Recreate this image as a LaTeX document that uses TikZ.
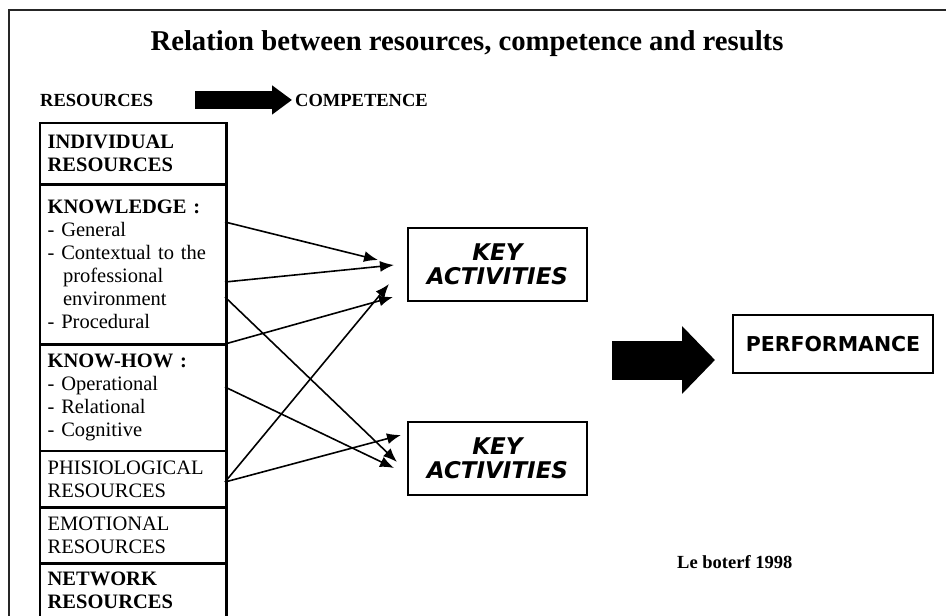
\documentclass[tikz,border=0pt]{standalone}
\usepackage{fontspec}
\setmainfont{Liberation Serif}
\newfontfamily\versans{DejaVu Sans}
\usetikzlibrary{positioning,arrows.meta,calc}

\begin{document}
\begin{tikzpicture}[x=1pt,y=-1pt,
  cell/.style={rectangle, draw=black, line width=1.3pt, text width=171pt,
    inner xsep=7pt, inner ysep=0pt, align=left, anchor=north west,
    font=\fontsize{20.5}{23}\selectfont},
  boldcell/.style={cell, font=\fontsize{20.5}{23}\selectfont\bfseries},
  keybox/.style={rectangle, draw=black, line width=1.7pt, minimum width=179pt,
    minimum height=73pt, align=center,
    font=\versans\bfseries\itshape\fontsize{23}{24}\selectfont},
  perfbox/.style={rectangle, draw=black, line width=1.7pt, minimum width=200pt,
    minimum height=58pt, font=\versans\bfseries\fontsize{20.5}{24}\selectfont},
  head/.style={anchor=base west, inner sep=0pt,
    font=\fontsize{18.5}{20}\selectfont\bfseries},
  link/.style={-{Latex[length=14pt,width=11pt]}, line width=1.6pt},
  fat/.style={line width=18pt, -{Triangle[length=20pt,width=28pt]}},
  fatter/.style={line width=39pt, -{Triangle[length=33pt,width=66pt]}},
]
\useasboundingbox (0,0) rectangle (946,616);
% frame and title
\draw[line width=1.8pt, black!85] (946,10) -- (9,10) -- (9,616);
\node[anchor=base, font=\fontsize{28.7}{30}\selectfont\bfseries] (title)
  at (467,50) {Relation between resources, competence and results};
\node[head] (res) at (40,106) {RESOURCES};
\node[head] (comp) at (295,106) {COMPETENCE};
\draw[fat] ([xshift=42pt]res.east) -- ([xshift=-3pt]comp.west);

% resource stack
\node[boldcell, minimum height=60pt] (indiv) at (40,123)
  {INDIVIDUAL\\RESOURCES};
\node[cell, minimum height=159pt, below=0pt of indiv] (know)
  {\textbf{KNOWLEDGE :}\\- General\\- Contextual to the\\
   \hspace*{0.75em}professional\\\hspace*{0.75em}environment\\- Procedural};
\node[cell, minimum height=105pt, below=0pt of know] (knowhow)
  {\textbf{KNOW-HOW :}\\- Operational\\- Relational\\- Cognitive};
\node[cell, minimum height=55pt, below=0pt of knowhow] (phisio)
  {PHISIOLOGICAL\\RESOURCES};
\node[cell, minimum height=55pt, below=0pt of phisio] (emo)
  {EMOTIONAL\\RESOURCES};
\node[boldcell, minimum height=53pt, below=0pt of emo] (network)
  {NETWORK\\RESOURCES};
\draw[line width=2.4pt] (indiv.north west) rectangle (network.south east);

% key activities
\node[keybox] (key1) at (497.5,264.5) {KEY\\ACTIVITIES};
\node[keybox] (key2) at (497.5,458.5) {KEY\\ACTIVITIES};
\node[perfbox] (perf) at (833,344) {PERFORMANCE};

\coordinate (kn1) at (225,222);
\coordinate (kn2) at (225,282);
\coordinate (kn3) at (225,297);
\coordinate (kh1) at (225,344);
\coordinate (kh2) at (225,387);
\coordinate (ph1) at (225,482);
\coordinate (ka1) at (378,260);
\coordinate (ka2) at (394,265);
\coordinate (ka3) at (393,297);
\coordinate (ka4) at (389,284);
\coordinate (kb1) at (397,462);
\coordinate (kb2) at (394,468);
\coordinate (kb3) at (401,435);
\draw[link] (kn1) -- (ka1);
\draw[link] (kn2) -- (ka2);
\draw[link] (kn3) -- (kb1);
\draw[link] (kh1) -- (ka3);
\draw[link] (kh2) -- (kb2);
\draw[link] (ph1) -- (ka4);
\draw[link] (ph1) -- (kb3);

% to performance
\coordinate (fs) at (612,360);
\coordinate (fe) at (715,360);
\draw[fatter] (fs) -- (fe);

\node[anchor=base west, inner sep=0pt, font=\fontsize{18.5}{20}\selectfont\bfseries] (src)
  at (677,568) {Le boterf 1998};
\end{tikzpicture}
\end{document}
